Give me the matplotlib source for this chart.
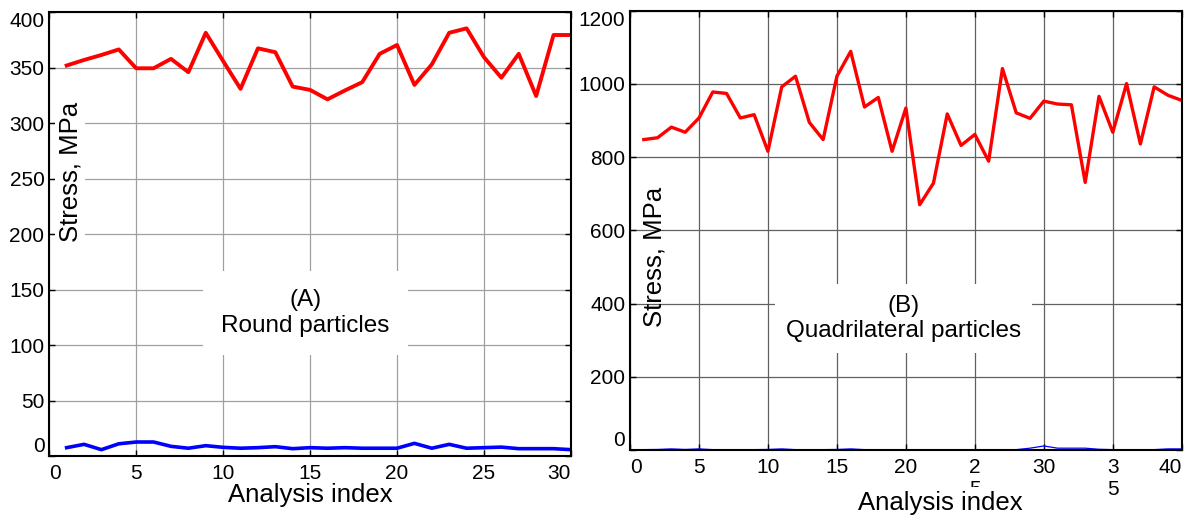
import numpy as np
import matplotlib
matplotlib.use("Agg")
import matplotlib.pyplot as plt

# Arial look-alike first, DejaVu as fallback
plt.rcParams['font.family'] = ['Liberation Sans', 'DejaVu Sans']

# (A) round particles, 30 analyses
idx_a = np.arange(1, 31)
red_a = [352, 357, 361.5, 366.5, 349.5, 349.5, 358, 346, 381.5, 356,
         331, 367.5, 364, 333, 330, 321.5, 329.5, 337, 362.5, 370.5,
         334.5, 353, 381.5, 385.5, 359.5, 341, 362.5, 324.5, 379.5, 379.5]
blue_a = [7.5, 10.5, 5.7, 11, 12.6, 12.6, 8.7, 7, 9.3, 7.8,
          7, 7.5, 8.4, 6.6, 7.5, 7, 7.5, 7, 7, 7,
          11.4, 7, 10.5, 7, 7.5, 8, 6.6, 6.6, 6.6, 5.7]
xticks_a = [0, 5, 10, 15, 20, 25, 30]
xlabels_a = ['0', '5', '10', '15', '20', '25', '30']
yticks_a = [0, 50, 100, 150, 200, 250, 300, 350, 400]

# (B) quadrilateral particles, 40 analyses
idx_b = np.arange(1, 41)
red_b = [848, 853, 882, 868, 907, 978, 974, 907, 916, 816,
         992, 1021, 895, 848, 1021, 1089, 937, 963, 816, 934,
         670, 729, 918, 832, 862, 789, 1042, 921, 906, 953,
         945, 943, 731, 966, 868, 1001, 836, 992, 969, 955]
blue_b = [1, 1.5, 3, 1.5, 3, 1, 1, 1, 1, 1.5,
          3, 1, 1, 1, 1.5, 3, 1, 1, 1, 1,
          1, 1, 1, 1, 1, 1, 1, 1, 5, 11,
          5, 5, 5, 2, 1, 1, 1, 1, 3, 3]
xticks_b = [0, 5, 10, 15, 20, 25, 30, 35, 40]
# the odd wrapped labels are in the original figure
xlabels_b = ['0', '5', '10', '15', '20', '2\n5', '30', '3\n5', '40']
yticks_b = [0, 200, 400, 600, 800, 1000, 1200]

fig = plt.figure(figsize=(11.84, 5.2), dpi=100)
axA = fig.add_axes([0.0416, 0.1231, 0.4406, 0.8533])
axB = fig.add_axes([0.5321, 0.1346, 0.4660, 0.8448])


def setup_panel(ax, xticks, xlabels, yticks, grid_color):
    ax.set_xlim(xticks[0], xticks[-1])
    ax.set_ylim(yticks[0], yticks[-1])
    ax.set_xticks(xticks)
    ax.set_xticklabels(xlabels)
    ax.set_yticks(yticks)
    ax.set_axisbelow(True)
    ax.grid(True, color=grid_color, linewidth=0.9)
    ax.tick_params(direction='in', length=4, width=1, top=True, right=True,
                   labelsize=15)
    ax.tick_params(axis='x', pad=6)
    ax.tick_params(axis='y', pad=3.5)
    for sp in ax.spines.values():
        sp.set_linewidth(1.5)
    # keep end labels inside the axes, like the original
    ylabs = ax.get_yticklabels()
    ylabs[0].set_va('bottom')
    ylabs[-1].set_va('top')
    xlabs = ax.get_xticklabels()
    xlabs[0].set_ha('left')
    xlabs[-1].set_ha('right')


setup_panel(axA, xticks_a, xlabels_a, yticks_a, '#a0a0a0')
setup_panel(axB, xticks_b, xlabels_b, yticks_b, '#606060')

# data lines
axA.plot(idx_a, red_a, color='#ff0000', linewidth=2.8)
axA.plot(idx_a, blue_a, color='#0000ff', linewidth=2.6)
axB.plot(idx_b, red_b, color='#ff0000', linewidth=2.4)
axB.plot(idx_b, blue_b, color='#0000ff', linewidth=0.9)

# axis titles drawn inside the plot area
axA.text(0.040, 0.641, 'Stress, MPa', rotation=90, ha='center', va='center',
         fontsize=18.5, transform=axA.transAxes,
         bbox=dict(facecolor='white', edgecolor='none', pad=2))
axB.text(0.0444, 0.4405, 'Stress, MPa', rotation=90, ha='center', va='center',
         fontsize=18.5, transform=axB.transAxes)

axA.set_xlabel('Analysis index', fontsize=18.5,
               bbox=dict(facecolor='white', edgecolor='none', pad=0))
axA.xaxis.set_label_coords(0.5, -0.089)
axA.xaxis.label.set_va('center')
# white box hides most of the stray "5" of the 25 label, as in the original
axB.set_xlabel('Analysis index', fontsize=18.5,
               bbox=dict(facecolor='white', edgecolor='none', pad=3))
axB.xaxis.set_label_coords(0.562, -0.121)
axB.xaxis.label.set_va('center')

# panel captions in white boxes
axA.text(0.491, 0.322, '(A)\nRound particles', ha='center', va='center',
         fontsize=17.5, transform=axA.transAxes,
         bbox=dict(boxstyle='square,pad=0.75', facecolor='white', edgecolor='none'))
axB.text(0.496, 0.30, '(B)\nQuadrilateral particles', ha='center', va='center',
         fontsize=17.5, transform=axB.transAxes,
         bbox=dict(boxstyle='square,pad=0.45', facecolor='white', edgecolor='none'))

fig.savefig('out.png', dpi=100)
